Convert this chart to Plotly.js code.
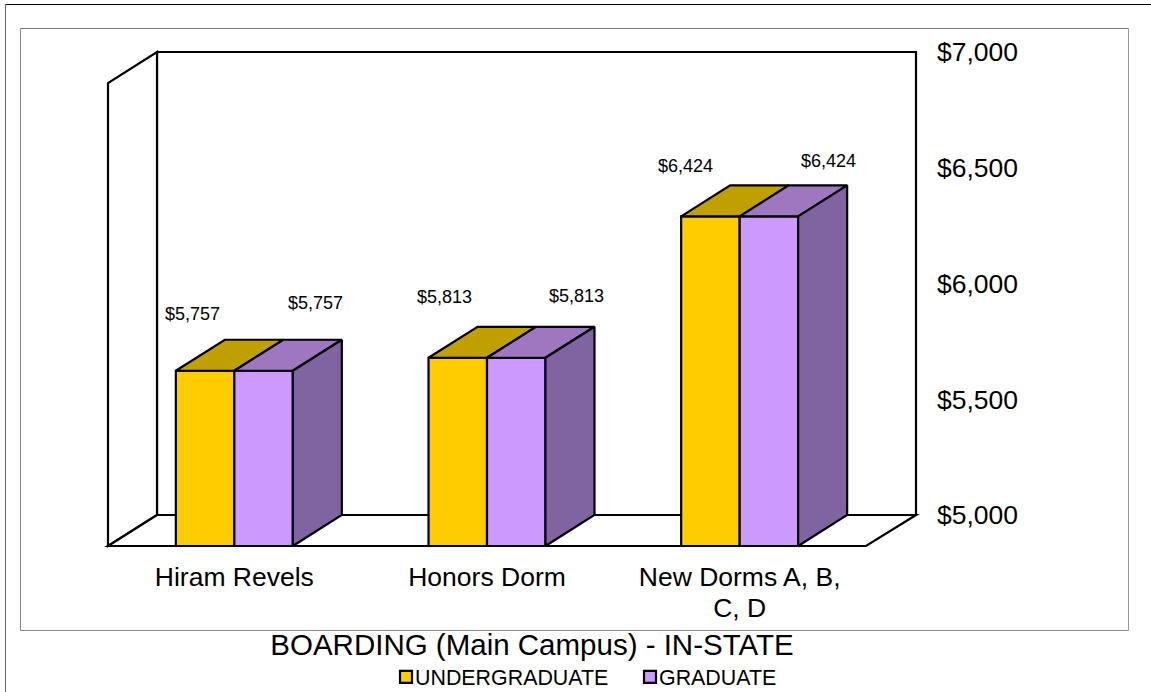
<!DOCTYPE html>
<html><head><meta charset="utf-8">
<script src="https://cdn.plot.ly/plotly-3.0.1.min.js"></script>
<style>html,body{margin:0;padding:0;background:#fff}#c{width:1151px;height:692px}</style>
</head><body><div id="c"></div>
<script>
const categories = ["Hiram Revels", "Honors Dorm", "New Dorms A, B,<br>C, D"];
const undergraduate = [5757, 5813, 6424];
const graduate = [5757, 5813, 6424];
const axisTicks = [5000, 5500, 6000, 6500, 7000];
const axisTickText = ["$5,000", "$5,500", "$6,000", "$6,500", "$7,000"];
const seriesNames = ["UNDERGRADUATE", "GRADUATE"];
const chartTitle = "BOARDING (Main Campus) - IN-STATE";

const W = 1151, H = 692, pad = 4;
const plot = {l: 108, r: 916, t: 52, b: 546};
const pxPerCat = (866 - 108) / 3, pxPerVal = 463 / 2000;
const depthX = 49 / pxPerCat, depthY = 31 / pxPerVal;
const baseVal = 5000, topVal = 7000;
const bargap = 0.537, w = (1 - bargap) / 2;
const xs = categories.map((_, i) => i);
const xMin = -0.5, xMax = xMin + (plot.r - plot.l) / pxPerCat, xFront = 2.5;
const black = {color: "#000", width: 2.2};
const colors = {u: "#FFCC00", g: "#CC99FF", uTop: "#C09F00", gTop: "#9F77C0", gSide: "#8064A2"};

const poly = (pts, fill) => ({
  type: "scatter", mode: "lines", x: pts.map(p => p[0]).concat(pts[0][0]), y: pts.map(p => p[1]).concat(pts[0][1]),
  fill: "toself", fillcolor: fill, line: black, showlegend: false, hoverinfo: "skip"
});
const traces = [
  {type: "bar", name: seriesNames[0], x: xs, y: undergraduate.map(v => v - baseVal), base: baseVal, marker: {color: colors.u, line: black}},
  {type: "bar", name: seriesNames[1], x: xs, y: graduate.map(v => v - baseVal), base: baseVal, marker: {color: colors.g, line: black}}
];
xs.forEach(c => {
  const u = undergraduate[c], g = graduate[c];
  traces.push(poly([[c - w, u], [c, u], [c + depthX, u + depthY], [c - w + depthX, u + depthY]], colors.uTop));
  traces.push(poly([[c, g], [c + w, g], [c + w + depthX, g + depthY], [c + depthX, g + depthY]], colors.gTop));
  traces.push(poly([[c + w, g], [c + w + depthX, g + depthY], [c + w + depthX, baseVal + depthY], [c + w, baseVal]], colors.gSide));
});

const path = (pts) => "M" + pts.map(p => p[0] + "," + p[1]).join("L") + "Z";
const wall = pts => ({type: "path", xref: "x", yref: "y", layer: "below", path: path(pts), line: black, fillcolor: "#fff"});
const backX = xMin + depthX, backB = baseVal + depthY, backT = topVal + depthY;
const shapes = [
  wall([[backX, backB], [backX, backT], [xMax, backT], [xMax, backB]]),
  wall([[xMin, baseVal], [xMin, baseVal + (backT - backB)], [backX, backT], [backX, backB]]),
  wall([[xMin, baseVal], [backX, backB], [xMax, backB], [xFront, baseVal]])
];
const L = plot.l - pad, R = plot.r + pad, T = plot.t - pad, B = plot.b + pad;
const px = x => (x - L) / (R - L), py = y => (B - y) / (B - T);
const frame = (x0, y0, x1, y1, c) => ({type: "line", xref: "paper", yref: "paper", x0: px(x0), y0: py(y0), x1: px(x1), y1: py(y1), line: {color: c, width: 1}});
shapes.push(frame(5.5, 4.5, 1151, 4.5, "#000"), frame(5.5, 4.5, 5.5, 692, "#666"));
shapes.push(frame(20.5, 28.5, 1128.5, 28.5, "#777"), frame(1128.5, 28.5, 1128.5, 630.5, "#999"), frame(20.5, 630.5, 1128.5, 630.5, "#888"), frame(20.5, 28.5, 20.5, 630.5, "#888"));

const labelShift = {u: [[-42, 57], [-43, 61], [-54, 50]], g: [[81, 68], [89, 62], [89, 55]]};
const fmt = v => "$" + v.toLocaleString("en-US");
const annotations = [];
xs.forEach(c => {
  annotations.push({x: c, y: undergraduate[c], text: fmt(undergraduate[c]), showarrow: false, xshift: labelShift.u[c][0], yshift: labelShift.u[c][1], font: {size: 18}});
  annotations.push({x: c, y: graduate[c], text: fmt(graduate[c]), showarrow: false, xshift: labelShift.g[c][0], yshift: labelShift.g[c][1], font: {size: 18}});
});

const layout = {
  width: W, height: H, paper_bgcolor: "#fff", plot_bgcolor: "#fff",
  font: {family: "'Liberation Sans', Arial, sans-serif", color: "#000"},
  margin: {l: L, r: W - R, t: T, b: H - B, autoexpand: false},
  barmode: "group", bargap: bargap, bargroupgap: 0, hovermode: false,
  title: {text: chartTitle, x: 532 / W, xanchor: "center", y: 1 - 645 / H, yanchor: "middle", font: {size: 29.5}},
  xaxis: {type: "linear", range: [xMin - pad / pxPerCat, xMax + pad / pxPerCat], tickmode: "array", tickvals: xs, ticktext: categories,
    showgrid: false, zeroline: false, showline: false, ticks: "", tickfont: {size: 26.5}, ticklabelstandoff: 8},
  yaxis: {range: [baseVal - pad / pxPerVal, backT + pad / pxPerVal], side: "right", tickmode: "array", tickvals: axisTicks.map(v => v + depthY), ticktext: axisTickText,
    showgrid: false, zeroline: false, showline: false, ticks: "", tickfont: {size: 26.5}, ticklabelstandoff: 16},
  legend: {orientation: "h", x: 386 / W, xref: "container", y: 1 - 677 / H, yref: "container", yanchor: "middle", xanchor: "left", font: {size: 21.4}, bgcolor: "rgba(0,0,0,0)",
    entrywidthmode: "pixels", entrywidth: 199, tracegroupgap: 0},
  shapes: shapes, annotations: annotations
};
Plotly.newPlot("c", traces, layout, {displayModeBar: false, staticPlot: true}).then(gd => {
  gd.querySelectorAll(".legend .legendtext").forEach(t => t.setAttribute("x", +t.getAttribute("x") - 11));
  gd.querySelectorAll(".xtick text tspan.line").forEach((t, i) => {
    if (i > 0 && t.getAttribute("y")) t.setAttribute("y", +t.getAttribute("y") - 3);
  });
});
</script></body></html>
